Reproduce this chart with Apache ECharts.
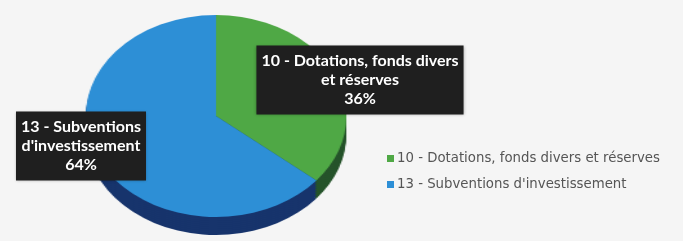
<!DOCTYPE html>
<html>
<head>
<meta charset="utf-8">
<script src="https://cdn.jsdelivr.net/npm/echarts@6/dist/echarts.min.js"></script>
<style>
  html, body { margin: 0; padding: 0; background: #f5f5f5; }
  #wrap { position: relative; width: 683px; height: 241px; overflow: hidden; }
  #pie { position: absolute; left: 0; top: 0; width: 683px; height: 241px;
         transform: scaleX(1.29); transform-origin: 216px 0; }
  #labels { position: absolute; left: 0; top: 0; width: 683px; height: 241px; }
</style>
</head>
<body>
<div id="wrap">
  <div id="pie"></div>
  <div id="labels"></div>
</div>
<script>
// données
var categories = ['10 - Dotations, fonds divers et réserves', '13 - Subventions d\'investissement'];
var labelTexts = ['10 - Dotations, fonds divers\net réserves', '13 - Subventions\nd\'investissement'];
var values = [36, 64];

var topColors = ['#4fa845', '#2d8fd6'];
var sideColors = ['#25532a', '#17346c'];

var cx = 216, cy = 116, r = 101;

function pieData(colors) {
  return categories.map(function (name, i) {
    return { name: name, value: values[i], itemStyle: { color: colors[i] } };
  });
}

// camembert (étiré horizontalement par le css pour l'effet 3D)
var pieChart = echarts.init(document.getElementById('pie'), null, { renderer: 'canvas' });
var series = [];
// épaisseur du camembert
for (var d = 18; d > 0; d -= 2) {
  series.push({
    type: 'pie',
    center: [cx, cy + d],
    radius: r,
    startAngle: 90,
    silent: true,
    animation: false,
    label: { show: false },
    labelLine: { show: false },
    data: pieData(sideColors)
  });
}
// face supérieure
series.push({
  type: 'pie',
  center: [cx, cy],
  radius: r,
  startAngle: 90,
  silent: true,
  animation: false,
  label: { show: false },
  labelLine: { show: false },
  data: pieData(topColors)
});
pieChart.setOption({ backgroundColor: 'transparent', series: series });

// étiquettes + légende
var labelPos = [[360, 80], [81, 146]];
var labelChart = echarts.init(document.getElementById('labels'));
labelChart.setOption({
  backgroundColor: 'transparent',
  legend: {
    orient: 'vertical',
    left: 382,
    top: 147,
    itemWidth: 7,
    itemHeight: 7,
    itemGap: 13,
    itemStyle: { borderWidth: 0 },
    icon: 'rect',
    textStyle: { fontFamily: 'DejaVu Sans', fontSize: 13.3, color: '#555555', padding: [0, 0, 0, -2] },
    data: categories.map(function (name, i) {
      return { name: name, itemStyle: { color: topColors[i] } };
    })
  },
  series: [{
    type: 'pie',
    center: [cx, cy],
    radius: r,
    startAngle: 90,
    silent: true,
    animation: false,
    itemStyle: { color: 'transparent' },
    labelLine: { show: false },
    label: {
      show: true,
      position: 'inside',
      formatter: function (p) {
        return labelTexts[p.dataIndex] + '\n' + p.value + '%';
      },
      align: 'center',
      verticalAlign: 'middle',
      color: '#ffffff',
      fontFamily: 'Lato',
      fontWeight: 'bold',
      fontSize: 16,
      lineHeight: 19,
      backgroundColor: '#1f1f1f',
      padding: [6, 5, 6, 5],
      shadowColor: 'rgba(0,0,0,0.3)',
      shadowBlur: 3
    },
    labelLayout: function (p) {
      return { x: labelPos[p.dataIndex][0], y: labelPos[p.dataIndex][1] };
    },
    data: categories.map(function (name, i) {
      return { name: name, value: values[i] };
    })
  }]
});
</script>
</body>
</html>
